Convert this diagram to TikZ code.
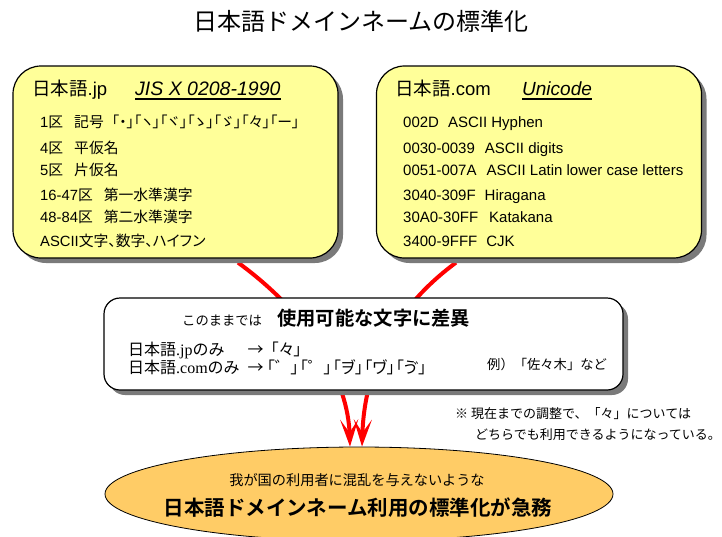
\documentclass[tikz,border=0pt]{standalone}
\usepackage{fontspec}
\setmainfont{Liberation Sans}
\newfontfamily\jp[BoldFont={Noto Sans CJK JP Bold}]{Noto Sans CJK JP}
\newfontfamily\jpp[RawFeature=+palt]{Noto Sans CJK JP}
\newfontfamily\serifjp{Liberation Serif}
\usetikzlibrary{arrows.meta,shadows,shapes.geometric}
\pgfdeclarelayer{background}
\pgfsetlayers{background,main}
\definecolor{boxyellow}{HTML}{FFFF99}
\definecolor{ellfill}{HTML}{FFCC66}
\definecolor{shadowgray}{HTML}{7A7A7A}
\newcommand\J[1]{{\jp #1}}
\newcommand\Pj[1]{{\jpp #1}}
\newcommand\fsz[1]{\fontsize{#1pt}{#1pt}\selectfont}
\tikzset{
  yellowbox/.style={draw=black, line width=1.2pt, fill=boxyellow, rounded corners=28pt,
    inner sep=0pt, minimum width=325pt, minimum height=192pt,
    drop shadow={shadow xshift=5pt, shadow yshift=-5pt, fill=shadowgray, opacity=1}},
  whitebox/.style={draw=black, line width=1.2pt, fill=white, rounded corners=16pt,
    inner sep=0pt, minimum width=519pt, minimum height=92pt,
    drop shadow={shadow xshift=5pt, shadow yshift=-5pt, fill=shadowgray, opacity=1}},
  goalell/.style={ellipse, draw=black, line width=0.8pt, fill=ellfill, inner sep=0pt,
    minimum width=508pt, minimum height=94pt},
  txt/.style={inner sep=0pt, anchor=base west},
  ctxt/.style={inner sep=0pt, anchor=base},
  redarrow/.style={draw=red, line width=4pt, -{Stealth[length=27pt,width=18pt,inset=13pt]}},
  uline/.style={line width=1.5pt}
}
\begin{document}
\begin{tikzpicture}[x=1pt,y=-1pt]
\useasboundingbox (0,0) rectangle (722,536);

% title
\node[ctxt] (title) at (361,30.5) {\fsz{24}\J{日本語ドメインネームの標準化}};

% boxes
\node[yellowbox] (jpbox) at (175.5,162) {};
\node[yellowbox] (combox) at (539,162) {};
\node[whitebox] (diff) at (363.5,344) {};
\node[goalell] (goal) at (359,494) {};

% arrows behind the boxes
\begin{pgfonlayer}{background}
\draw[redarrow] ([xshift=62.5pt,yshift=-4pt]jpbox.south) .. controls (310,315) and (348,380) .. ([xshift=-9pt]goal.north);
\draw[redarrow] ([xshift=-83pt,yshift=-4pt]combox.south) .. controls (385,315) and (364,380) .. ([xshift=3pt]goal.north);
\end{pgfonlayer}

% left box text
\node[txt] (jph) at (32,95.5) {\fsz{18.5}\J{日本語}.jp};
\node[txt] (jis) at (135,95.5) {\fsz{19.5}\itshape JIS X 0208-1990};
\draw[uline] ([yshift=-3.5pt]jis.base west) -- ([yshift=-3.5pt]jis.base east);
\node[txt] (l1) at (40,127.3) {\fsz{14.8}1\J{区}\hspace{11pt}\J{記号}\hspace{8pt}\Pj{「・」「ヽ」「ヾ」「ゝ」「ゞ」「々」「ー」}};
\node[txt] (l2) at (40,153.3) {\fsz{14.8}4\J{区}\hspace{11pt}\J{平仮名}};
\node[txt] (l3) at (40,175.5) {\fsz{14.8}5\J{区}\hspace{11pt}\J{片仮名}};
\node[txt] (l4) at (40,200) {\fsz{14.8}16-47\J{区}\hspace{11pt}\J{第一水準漢字}};
\node[txt] (l5) at (40,222) {\fsz{14.8}48-84\J{区}\hspace{11pt}\J{第二水準漢字}};
\node[txt] (l6) at (40,246.7) {\fsz{14.8}ASCII\Pj{文字、数字、ハイフン}};

% right box text
\node[txt] (comh) at (395,95.5) {\fsz{18.5}\J{日本語}.com};
\node[txt] (uni) at (522,95.5) {\fsz{19}\itshape Unicode};
\draw[uline] ([yshift=-3.5pt]uni.base west) -- ([yshift=-3.5pt]uni.base east);
\node[txt] (r1) at (403,127.3) {\fsz{15}002D\hspace{9pt}ASCII Hyphen};
\node[txt] (r2) at (403,153.3) {\fsz{15}0030-0039\hspace{10pt}ASCII digits};
\node[txt] (r3) at (403,175.5) {\fsz{15}0051-007A\hspace{10pt}ASCII Latin lower case letters};
\node[txt] (r4) at (403,200) {\fsz{15}3040-309F\hspace{9pt}Hiragana};
\node[txt] (r5) at (403,222) {\fsz{15}30A0-30FF\hspace{11pt}Katakana};
\node[txt] (r6) at (403,246.7) {\fsz{15}3400-9FFF\hspace{9pt}CJK};

% middle box text
\node[txt] (m0) at (182,325.5) {\fsz{13.3}\J{このままでは}};
\node[txt] (m1) at (277,325.5) {\fsz{19.3}\jp\bfseries 使用可能な文字に差異};
\node[txt] (m2) at (128,355.5) {\fsz{16}\J{日本語}{\serifjp .jp}\J{のみ}\hspace{23pt}\J{→}\hspace{7pt}\Pj{「々」}};
\node[txt] (m3) at (128,373.5) {\fsz{16}\J{日本語}{\serifjp .com}\J{のみ}\hspace{8pt}\J{→}\hspace{3pt}\Pj{「゛」\hspace{1pt}「゜」\hspace{1pt}「ヺ」\hspace{1pt}「ヷ」\hspace{1pt}「ゔ」}};
\node[txt] (m4) at (487,369) {\fsz{13.3}\J{例）「佐々木」など}};

% note
\node[txt] (n1) at (455,418) {\fsz{13}\J{※}\hspace{3pt}\J{現在までの調整で、「々」については}};
\node[txt] (n2) at (475,439) {\fsz{13}\J{どちらでも利用できるようになっている。}};

% ellipse text
\node[ctxt] (g1) at (357,485) {\fsz{14.2}\J{我が国の利用者に混乱を与えないような}};
\node[ctxt] (g2) at (358,515.5) {\fsz{20.5}\jp\bfseries 日本語ドメインネーム利用の標準化が急務};
\end{tikzpicture}
\end{document}
